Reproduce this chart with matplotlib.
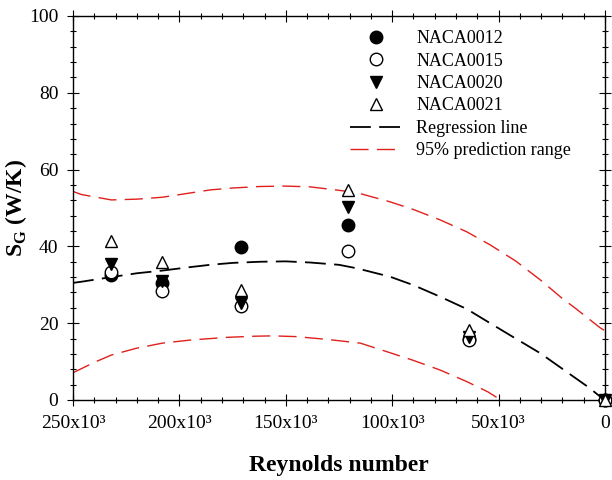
import numpy as np
import matplotlib.pyplot as plt
from matplotlib.ticker import MultipleLocator, FuncFormatter

plt.rcParams['font.family'] = ['Liberation Serif', 'DejaVu Serif']
plt.rcParams['lines.scale_dashes'] = False
plt.rcParams['mathtext.fontset'] = 'custom'
plt.rcParams['mathtext.rm'] = 'Liberation Serif'
plt.rcParams['mathtext.bf'] = 'Liberation Serif:bold'

# Reynolds numbers of the test points
re = [232e3, 208e3, 171e3, 121e3, 64e3, 0]

# entropy generation rate S_G (W/K) per airfoil
naca0012 = [32.5, 30.5, 39.8, 45.6, 16.0, 0]
naca0015 = [33.2, 28.4, 24.5, 38.8, 15.6, 0]
naca0020 = [35.5, 30.9, 25.2, 50.3, 16.5, 0]
naca0021 = [41.5, 36.0, 28.6, 54.7, 18.2, 0]

# regression line and 95% prediction band
re_fit = [250e3, 246e3, 232e3, 220e3, 208e3, 195e3, 185.6e3, 175e3, 162e3, 150e3,
          138.6e3, 125e3, 116.7e3, 101e3, 90e3, 77.5e3, 65e3, 54e3, 42e3, 30.5e3,
          20e3, 14.9e3, 8e3, 2.3e3, 0]
reg = [30.5, 30.8, 32.0, 33.0, 33.7, 34.6, 35.2, 35.7, 36.0, 36.1,
       35.8, 35.2, 34.3, 32.1, 29.9, 26.9, 23.7, 20.0, 16.0, 12.2,
       8.1, 6.1, 3.4, 0.9, 0]
upper = [54.3, 53.5, 52.1, 52.3, 52.8, 53.9, 54.7, 55.2, 55.6, 55.7,
         55.5, 54.6, 54.0, 51.6, 49.6, 46.9, 43.8, 40.4, 36.2, 31.3,
         26.4, 24.3, 21.3, 18.8, 18.0]
lower_x = [250e3, 240e3, 232e3, 220e3, 208e3, 195e3, 178e3, 165e3, 156e3, 145e3,
           131e3, 124.5e3, 115e3, 101e3, 90e3, 77.5e3, 65e3, 55e3, 49e3]
lower = [7.1, 9.8, 11.7, 13.5, 14.8, 15.6, 16.3, 16.6, 16.7, 16.5,
         15.8, 15.4, 14.8, 12.3, 10.3, 7.8, 4.8, 2.1, 0.0]

fig = plt.figure(figsize=(6.12, 4.8), dpi=100)
ax = fig.add_axes([0.1193, 0.1667, 0.8693, 0.8])

mk = dict(linestyle='none', markersize=9, markeredgecolor='black',
          markeredgewidth=1.0, clip_on=False, zorder=5)
ax.plot(re, naca0012, 'o', color='black', label='NACA0012', **mk)
ax.plot(re, naca0015, 'o', color='white', label='NACA0015', **mk)
ax.plot(re, naca0020, 'v', color='black', label='NACA0020', **mk)
ax.plot(re, naca0021, '^', color='white', label='NACA0021', **mk)

ax.plot(re_fit, reg, color='black', lw=1.3, dashes=(15, 6), label='Regression line')
ax.plot(re_fit, upper, color='#e0201c', lw=1.0, dashes=(13, 6),
        label='95% prediction range')
ax.plot(lower_x, lower, color='#e0201c', lw=1.0, dashes=(13, 6))

ax.set_xlim(250e3, 0)
ax.set_ylim(0, 100)
ax.xaxis.set_major_locator(MultipleLocator(50e3))
ax.xaxis.set_minor_locator(MultipleLocator(10e3))
ax.yaxis.set_major_locator(MultipleLocator(20))
ax.yaxis.set_minor_locator(MultipleLocator(4))
ax.xaxis.set_major_formatter(FuncFormatter(
    lambda v, p: '0' if v == 0 else '%dx10\u00b3' % round(v / 1e3)))

ax.tick_params(which='both', direction='inout', top=True, right=True,
               labelsize=14, width=0.8, colors='black')
ax.tick_params(which='major', length=9, pad=6)
ax.tick_params(which='minor', length=5)
for s in ax.spines.values():
    s.set_linewidth(1.0)

ax.set_xlabel('Reynolds number', fontsize=17, fontweight='bold')
ax.set_ylabel(r'S$_\mathbf{G}$ (W/K)', fontsize=17, fontweight='bold')
ax.xaxis.set_label_coords(0.5, -0.143)
ax.yaxis.set_label_coords(-0.082, 0.5)

ax.legend(loc='upper left', bbox_to_anchor=(0.52, 0.963), frameon=False,
          fontsize=13, handlelength=2.9, handletextpad=0.8, labelspacing=0.3,
          borderaxespad=0, borderpad=0)

fig.savefig('out.png', dpi=100)
